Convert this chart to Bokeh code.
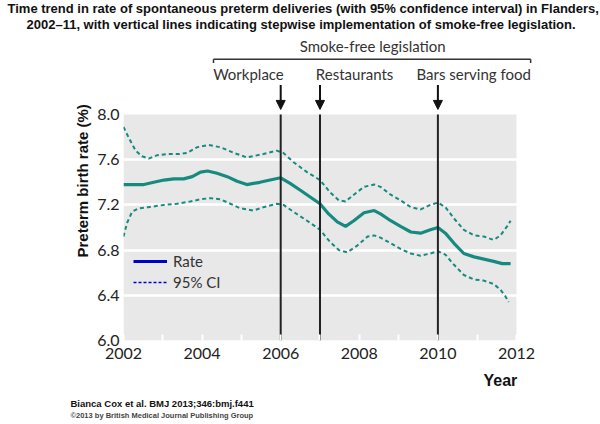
from bokeh.plotting import figure
from bokeh.models import (Arrow, NormalHead, Label, Legend, LegendItem, Title,
                          FixedTicker, CustomJSTickFormatter)
from bokeh.embed import file_html
from bokeh.resources import INLINE

# ---------------- data ----------------
rate_years = [2002.00, 2002.26, 2002.52, 2002.77, 2003.03, 2003.28, 2003.53, 2003.75,
              2003.96, 2004.14, 2004.38, 2004.64, 2004.89, 2005.14, 2005.47, 2005.73,
              2006.00, 2006.24, 2006.50, 2006.75, 2007.00, 2007.22, 2007.44, 2007.65,
              2007.86, 2008.12, 2008.38, 2008.54, 2008.80, 2009.05, 2009.31, 2009.56,
              2009.81, 2010.00, 2010.19, 2010.41, 2010.66, 2010.92, 2011.17, 2011.42,
              2011.64, 2011.85]
rate = [7.38, 7.38, 7.38, 7.40, 7.42, 7.43, 7.43, 7.45, 7.49, 7.50, 7.48, 7.45, 7.41, 7.38,
        7.40, 7.42, 7.44, 7.39, 7.33, 7.27, 7.21, 7.12, 7.05, 7.01, 7.06, 7.13, 7.15, 7.12,
        7.06, 7.01, 6.96, 6.95, 6.98, 7.00, 6.95, 6.86, 6.77, 6.74, 6.72, 6.70, 6.68, 6.68]

upper_years = [2002.00, 2002.14, 2002.31, 2002.47, 2002.64, 2002.86, 2003.11, 2003.41,
               2003.62, 2003.87, 2004.17, 2004.47, 2004.81, 2005.14, 2005.56, 2005.90,
               2006.07, 2006.32, 2006.67, 2007.00, 2007.26, 2007.48, 2007.65, 2007.86,
               2008.12, 2008.38, 2008.54, 2008.80, 2009.05, 2009.31, 2009.56, 2009.81,
               2010.00, 2010.19, 2010.41, 2010.66, 2010.92, 2011.17, 2011.42, 2011.59,
               2011.76, 2011.85]
upper_ci = [7.89, 7.79, 7.68, 7.63, 7.61, 7.64, 7.65, 7.65, 7.66, 7.71, 7.73, 7.71, 7.66,
            7.62, 7.65, 7.68, 7.66, 7.58, 7.49, 7.42, 7.31, 7.24, 7.23, 7.29, 7.36, 7.38,
            7.36, 7.29, 7.24, 7.18, 7.16, 7.20, 7.22, 7.18, 7.08, 6.98, 6.93, 6.92, 6.89,
            6.93, 7.01, 7.06]

lower_years = [2002.00, 2002.09, 2002.22, 2002.39, 2002.64, 2003.03, 2003.36, 2003.70,
               2003.96, 2004.22, 2004.47, 2004.72, 2004.97, 2005.31, 2005.56, 2005.90,
               2006.07, 2006.32, 2006.67, 2007.00, 2007.26, 2007.48, 2007.69, 2007.95,
               2008.21, 2008.38, 2008.54, 2008.80, 2009.05, 2009.31, 2009.56, 2009.81,
               2010.00, 2010.19, 2010.41, 2010.66, 2010.92, 2011.17, 2011.42, 2011.59,
               2011.72, 2011.80]
lower_ci = [6.92, 7.04, 7.14, 7.17, 7.18, 7.20, 7.21, 7.23, 7.25, 7.26, 7.25, 7.21, 7.17,
            7.15, 7.18, 7.21, 7.20, 7.14, 7.06, 6.98, 6.87, 6.80, 6.78, 6.84, 6.92, 6.93,
            6.91, 6.86, 6.81, 6.77, 6.75, 6.77, 6.79, 6.76, 6.67, 6.58, 6.54, 6.53, 6.50,
            6.45, 6.39, 6.34]

event_years = [2006, 2007, 2010]
event_labels = ["Workplace", "Restaurants", "Bars serving food"]

x_ticks = [2002, 2004, 2006, 2008, 2010, 2012]
x_minor = [2003, 2005, 2007, 2009, 2011]
y_ticks = [6.0, 6.4, 6.8, 7.2, 7.6, 8.0]

title_lines = ["Time trend in rate of spontaneous preterm deliveries (with 95% confidence interval) in Flanders,",
               "2002\u201311, with vertical lines indicating stepwise implementation of smoke-free legislation."]
footer_lines = ["Bianca Cox et al. BMJ 2013;346:bmj.f441",
                "\u00a92013 by British Medical Journal Publishing Group"]

# ---------------- styling / layout ----------------
TEAL = "#178a80"
BLUE = "#0000cc"
GRAYBG = "#e8e8e8"
FONT = "Lato"
BOLD = "Liberation Sans"
NAN = float("nan")

p = figure(width=600, height=424, output_backend="svg", toolbar_location=None,
           x_range=(2002, 2012.738), y_range=(6.0, 8.708), title=None,
           min_border_left=123, min_border_right=55, min_border_top=34,
           min_border_bottom=84)
p.outline_line_color = None
p.background_fill_color = "white"
p.border_fill_color = "white"

# grey plotting panel
p.quad(left=[x_ticks[0]], right=[x_ticks[-1]], bottom=[y_ticks[0]], top=[y_ticks[-1]],
       fill_color=GRAYBG, line_color=None, level="image")

p.xgrid.grid_line_color = None
p.ygrid.grid_line_color = "white"
p.ygrid.grid_line_width = 2.5
p.ygrid.ticker = FixedTicker(ticks=y_ticks[1:-1])

p.xaxis.ticker = FixedTicker(ticks=x_ticks, minor_ticks=x_minor)
p.xaxis.axis_line_color = None
p.xaxis.major_tick_line_color = "white"
p.xaxis.major_tick_in = 6
p.xaxis.major_tick_out = 0
p.xaxis.minor_tick_line_color = "white"
p.xaxis.minor_tick_line_width = 2
p.xaxis.major_tick_line_width = 2
p.xaxis.minor_tick_in = 6
p.xaxis.minor_tick_out = 0
p.xaxis.major_label_text_font = FONT
p.xaxis.major_label_text_font_size = "16px"
p.xaxis.major_label_text_color = "#222222"
p.xaxis.major_label_standoff = 7

p.yaxis.ticker = FixedTicker(ticks=y_ticks)
p.yaxis.formatter = CustomJSTickFormatter(code="return tick.toFixed(1);")
p.yaxis.axis_line_color = None
p.yaxis.major_tick_line_color = None
p.yaxis.major_tick_out = 0
p.yaxis.major_tick_in = 0
p.yaxis.minor_tick_line_color = None
p.yaxis.major_label_text_font = FONT
p.yaxis.major_label_text_font_size = "16px"
p.yaxis.major_label_text_color = "#222222"
p.yaxis.major_label_standoff = 4

# y-axis title (positioned like the original, a little above the panel centre)
p.add_layout(Title(text="Preterm birth rate (%)", align="left", offset=83, standoff=7,
                   text_font=BOLD, text_font_style="bold", text_font_size="15px",
                   text_color="#111111"), "left")

# data lines
p.line(upper_years, upper_ci, line_color=TEAL, line_width=2, line_dash="4 3")
p.line(lower_years, lower_ci, line_color=TEAL, line_width=2, line_dash="4 3")
p.line(rate_years, rate, line_color=TEAL, line_width=3.2)

# event lines (within the grey panel) + arrows above
p.segment(x0=event_years, y0=[y_ticks[0]] * 3, x1=event_years, y1=[y_ticks[-1]] * 3,
          line_color="#222222", line_width=2)
for yr in event_years:
    p.add_layout(Arrow(x_start=yr, y_start=8.26, x_end=yr, y_end=8.045,
                       line_color="#111111", line_width=2,
                       end=NormalHead(size=9, fill_color="#111111", line_color="#111111")))

# event labels
label_x = [2005.18, 2007.88, 2010.91]
for lx, txt in zip(label_x, event_labels):
    p.add_layout(Label(x=lx, y=8.36, text=txt, text_align="center", text_baseline="middle",
                       text_font=FONT, text_font_size="15px", text_color="#333333"))

# bracket "Smoke-free legislation"
br_left, br_right, br_y, br_tick = 2004.29, 2012.36, 8.49, 8.455
for xs, ys, xe, ye in [(br_left, br_y, br_right, br_y), (br_left, br_y, br_left, br_tick),
                       (br_right, br_y, br_right, br_tick)]:
    p.add_layout(Arrow(x_start=xs, y_start=ys, x_end=xe, y_end=ye,
                       line_color="#333333", line_width=1.5, end=None))
p.add_layout(Label(x=2008.34, y=8.61, text="Smoke-free legislation", text_align="center",
                   text_baseline="middle", text_font=FONT, text_font_size="15px",
                   text_color="#333333"))

# legend (blue swatches as in the original)
r_rate = p.line([NAN], [NAN], line_color=BLUE, line_width=3)
r_ci = p.line([NAN], [NAN], line_color=BLUE, line_width=1.5, line_dash="3 2")
legend = Legend(items=[LegendItem(label="Rate", renderers=[r_rate]),
                       LegendItem(label="95% CI", renderers=[r_ci])],
                location=(10, 49), background_fill_alpha=0, border_line_color=None,
                label_text_font=FONT, label_text_font_size="15px", label_text_color="#333333",
                glyph_width=34, glyph_height=16, label_height=16, spacing=3,
                padding=0, margin=0, label_standoff=6)
p.add_layout(legend, "center")

# title lines (outermost added last)
p.add_layout(Title(text=title_lines[1], align="left", offset=-97, standoff=5,
                   text_font=BOLD, text_font_style="bold", text_font_size="13px",
                   text_color="#111111"), "above")
p.add_layout(Title(text=title_lines[0], align="left", offset=-116, standoff=-6,
                   text_font=BOLD, text_font_style="bold", text_font_size="13px",
                   text_color="#111111"), "above")

# below: "Year", then footer
p.add_layout(Title(text="Year", align="left", offset=360, standoff=17,
                   text_font=BOLD, text_font_style="bold", text_font_size="16px",
                   text_color="#111111"), "below")
p.add_layout(Title(text=footer_lines[0], align="left", offset=-53, standoff=-3,
                   text_font=BOLD, text_font_style="bold", text_font_size="9.5px",
                   text_color="#111111"), "below")
p.add_layout(Title(text=footer_lines[1], align="left", offset=-53, standoff=2,
                   text_font=BOLD, text_font_size="7.5px", text_color="#444444"), "below")

open("out.html", "w").write(file_html(p, INLINE))
